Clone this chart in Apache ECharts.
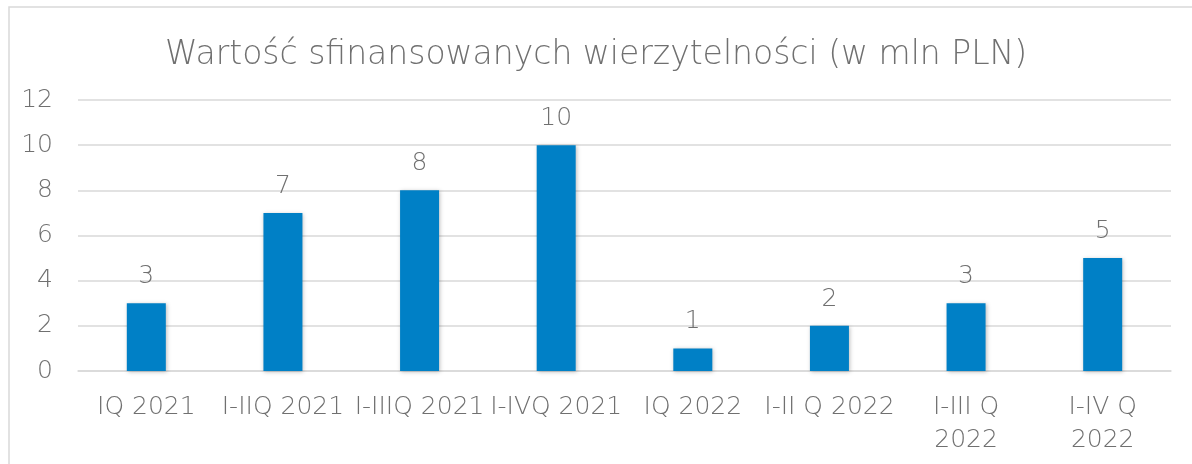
<!DOCTYPE html>
<html>
<head>
<meta charset="utf-8">
<script src="https://cdn.jsdelivr.net/npm/echarts@6/dist/echarts.min.js"></script>
<style>
html,body{margin:0;padding:0;background:#fff;}
#chart{width:1192px;height:464px;}
</style>
</head>
<body>
<div id="chart"></div>
<script>
var titleText = 'Wartość sfinansowanych wierzytelności (w mln PLN)';
var categories = ['IQ 2021', 'I-IIQ 2021', 'I-IIIQ 2021', 'I-IVQ 2021', 'IQ 2022', 'I-II Q 2022', 'I-III Q\n2022', 'I-IV Q\n2022'];
var values = [3, 7, 8, 10, 1, 2, 3, 5];
var yTicks = [0, 2, 4, 6, 8, 10, 12];

var FONT = '"DejaVu Sans", sans-serif';
var GRAY = '#707070';
var chart = echarts.init(document.getElementById('chart'));
chart.setOption({
  backgroundColor: '#fff',
  animation: false,
  graphic: [{
    type: 'rect', silent: true, z: -1,
    shape: {x: 9, y: 7, width: 1200, height: 480},
    style: {fill: 'none', stroke: '#d9d9d9', lineWidth: 1.5}
  }],
  title: {
    text: titleText, left: 'center', top: 34,
    textStyle: {fontFamily: FONT, fontWeight: 200, fontSize: 33, color: GRAY}
  },
  grid: {left: 78, right: 21, top: 100, bottom: 93, containLabel: false},
  xAxis: {
    type: 'category', data: categories,
    axisLine: {show: true, lineStyle: {color: '#d9d9d9', width: 1.5}},
    axisTick: {show: false},
    axisLabel: {fontFamily: FONT, fontWeight: 200, fontSize: 25, color: GRAY, margin: 20, lineHeight: 33, interval: 0}
  },
  yAxis: {
    type: 'value', min: yTicks[0], max: yTicks[yTicks.length - 1], interval: 2,
    axisLine: {show: false}, axisTick: {show: false},
    splitLine: {lineStyle: {color: '#d9d9d9', width: 1.5}},
    axisLabel: {fontFamily: FONT, fontWeight: 200, fontSize: 25, color: GRAY, margin: 25}
  },
  series: [{
    type: 'bar', data: values, barWidth: 39,
    itemStyle: {color: '#0080C6', shadowColor: 'rgba(0,0,0,0.25)', shadowBlur: 4, shadowOffsetX: 1, shadowOffsetY: 1},
    label: {show: true, position: 'top', distance: 14, fontFamily: FONT, fontWeight: 200, fontSize: 25, color: GRAY}
  }]
});
</script>
</body>
</html>
